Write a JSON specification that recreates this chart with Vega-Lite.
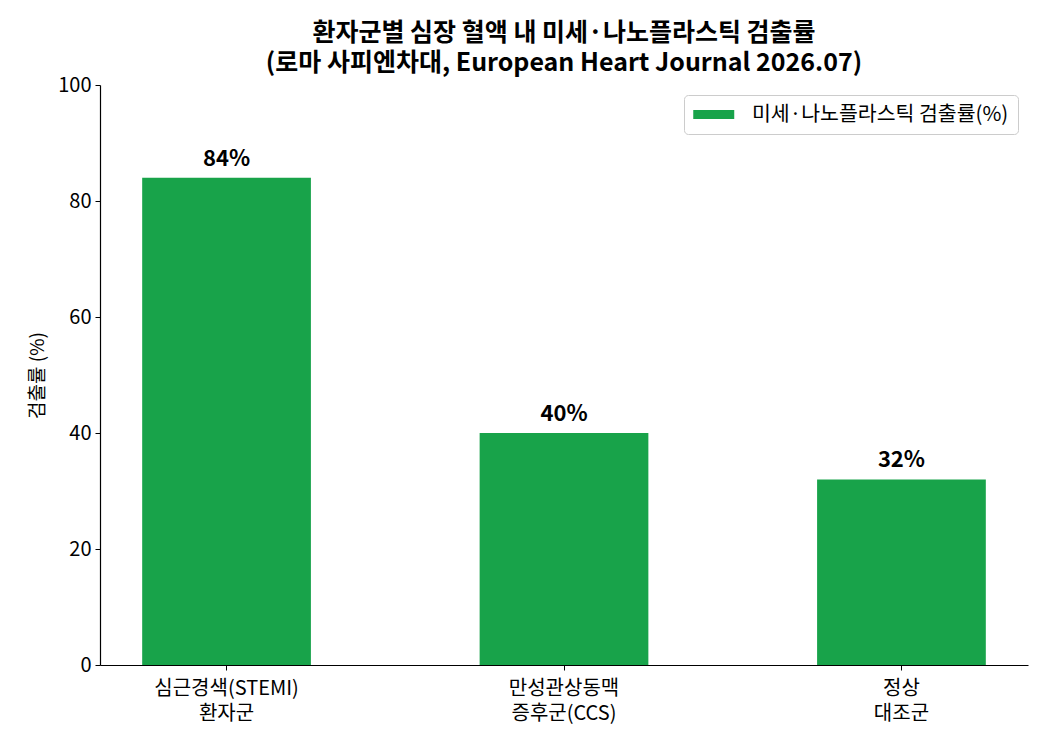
{
  "$schema": "https://vega.github.io/schema/vega-lite/v6.json",
  "width": 928,
  "height": 580,
  "autosize": {"type": "none"},
  "padding": {"left": 100, "top": 85, "right": 22, "bottom": 85},
  "background": "white",
  "config": {
    "font": "Noto Sans CJK KR",
    "view": {"stroke": null},
    "axis": {"labelFont": "Noto Sans CJK KR", "titleFont": "Noto Sans CJK KR", "labelColor": "black", "titleColor": "black", "domainColor": "black", "tickColor": "black", "grid": false}
  },
  "title": {
    "text": ["환자군별 심장 혈액 내 미세·나노플라스틱 검출률", "(로마 사피엔차대, European Heart Journal 2026.07)"],
    "font": "Noto Sans CJK KR",
    "fontSize": 25,
    "fontWeight": "bold",
    "color": "black",
    "anchor": "middle",
    "offset": -1,
    "lineHeight": 30
  },
  "data": {
    "values": [
      {"group": "심근경색(STEMI) 환자군", "rate": 84, "label": "84%", "series": "미세·나노플라스틱 검출률(%)"},
      {"group": "만성관상동맥 증후군(CCS)", "rate": 40, "label": "40%", "series": "미세·나노플라스틱 검출률(%)"},
      {"group": "정상 대조군", "rate": 32, "label": "32%", "series": "미세·나노플라스틱 검출률(%)"}
    ]
  },
  "encoding": {
    "x": {
      "field": "group",
      "type": "nominal",
      "sort": null,
      "scale": {"paddingInner": 0.5, "paddingOuter": 0.125},
      "axis": {"title": null, "labelAngle": 0, "labelFontSize": 20, "labelExpr": "split(datum.label, ' ')", "labelLineHeight": 25, "tickSize": 5, "labelPadding": 8, "domainWidth": 1.2}
    },
    "y": {
      "field": "rate",
      "type": "quantitative",
      "scale": {"domain": [0, 100], "nice": false},
      "axis": {"title": "검출률 (%)", "titleFontSize": 19, "titleFontWeight": "normal", "labelFontSize": 20, "values": [0, 20, 40, 60, 80, 100], "tickSize": 5, "labelPadding": 4, "titlePadding": 10, "domainWidth": 1.2}
    }
  },
  "layer": [
    {
      "mark": {"type": "bar"},
      "encoding": {
        "color": {
          "field": "series",
          "type": "nominal",
          "scale": {"range": ["#18a34a"]},
          "legend": {
            "title": null,
            "orient": "top-right",
            "offset": 10,
            "labelFontSize": 20.5,
            "labelFont": "Noto Sans CJK KR",
            "labelColor": "black",
            "labelLimit": 0,
            "symbolType": "M-1,-0.44L3,-0.44L3,0.44L-1,0.44Z",
            "symbolSize": 420,
            "symbolStrokeWidth": 0,
            "symbolOpacity": 1,
            "strokeColor": "#cccccc",
            "fillColor": "white",
            "cornerRadius": 4,
            "padding": 9,
            "labelOffset": 38
          }
        }
      }
    },
    {
      "mark": {"type": "text", "dy": -19, "fontSize": 22, "fontWeight": "bold", "color": "black", "font": "Noto Sans CJK KR"},
      "encoding": {
        "text": {"field": "label", "type": "nominal"}
      }
    }
  ]
}
